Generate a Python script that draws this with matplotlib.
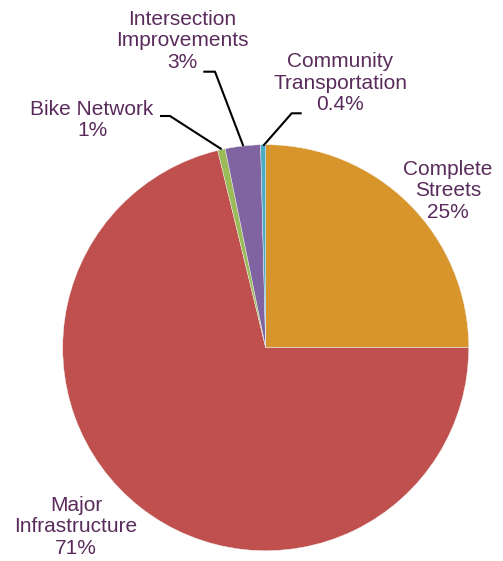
import matplotlib
matplotlib.use("Agg")
import matplotlib.pyplot as plt

categories = ["Complete Streets", "Major Infrastructure", "Bike Network",
              "Intersection Improvements", "Community Transportation"]
values = [25.0, 71.2, 0.6, 2.8, 0.4]
pct_labels = ["25%", "71%", "1%", "3%", "0.4%"]
label_text = ["Complete\nStreets", "Major\nInfrastructure", "Bike Network",
              "Intersection\nImprovements", "Community\nTransportation"]
colors = ["#D8952B", "#C0504D", "#9BBB59", "#8064A2", "#4BACC6"]

W, H = 503, 561
cx, cy, R = 265.7, 347.7, 203.0

def px(x, y):
    return (x - cx) / R, (cy - y) / R

fig = plt.figure(figsize=(W / 100, H / 100), dpi=100)
ax = fig.add_axes([0, 0, 1, 1])

ax.pie(values, colors=colors, startangle=90, counterclock=False,
       radius=1.0, center=(0, 0),
       wedgeprops=dict(linewidth=0.3, edgecolor="#f2f2f2"))

ax.set_aspect("equal")
ax.set_xlim(-cx / R, (W - cx) / R)
ax.set_ylim(-(H - cy) / R, cy / R)
ax.axis("off")

txt_color = "#5A2C5C"
font = dict(family=["Liberation Sans", "DejaVu Sans"], size=15, color=txt_color)

# label centres (pixel coordinates)
label_pos = [(448, 191), (76, 527), (92, 120), (182, 41), (340, 83)]
for lab, pct, (lx, ly) in zip(label_text, pct_labels, label_pos):
    x, y = px(lx, ly)
    ax.text(x, y, lab + "\n" + pct, ha="center", va="center",
            linespacing=1.15, **font)

# leader lines (pixel coordinates)
leaders = [
    [(160, 116), (170, 116), (221.7, 149.3)],
    [(203.3, 71.7), (215, 71.7), (243.3, 146)],
    [(301.7, 113.3), (291.7, 113.3), (263.3, 145.7)],
]
for pts in leaders:
    xs, ys = zip(*[px(a, b) for a, b in pts])
    ax.plot(xs, ys, color="black", linewidth=1.5, solid_capstyle="butt")

fig.savefig("out.png", dpi=100)
